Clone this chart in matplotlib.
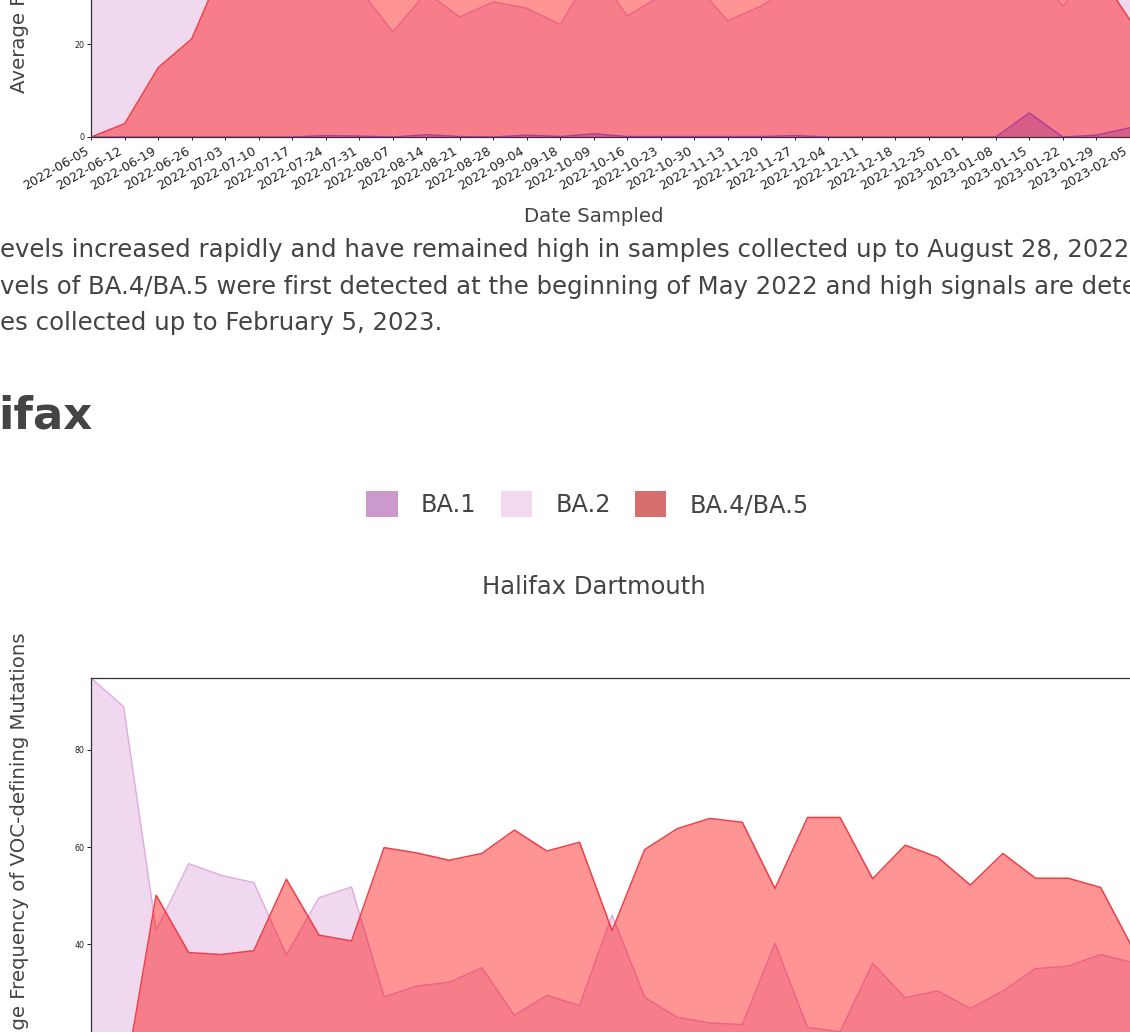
import numpy as np
import matplotlib
matplotlib.use("Agg")
import matplotlib.pyplot as plt
from matplotlib.patches import Patch

# ---------------- data ----------------
top_dates = ["2022-06-05", "2022-06-12", "2022-06-19", "2022-06-26", "2022-07-03", "2022-07-10",
             "2022-07-17", "2022-07-24", "2022-07-31", "2022-08-07", "2022-08-14", "2022-08-21",
             "2022-08-28", "2022-09-04", "2022-09-18", "2022-10-09", "2022-10-16", "2022-10-23",
             "2022-10-30", "2022-11-13", "2022-11-20", "2022-11-27", "2022-12-04", "2022-12-11",
             "2022-12-18", "2022-12-25", "2023-01-01", "2023-01-08", "2023-01-15", "2023-01-22",
             "2023-01-29", "2023-02-05"]
top_ba1 = [0, 0, 0, 0, 0, 0, 0, 0.3, 0.2, 0, 0.5, 0.1, 0, 0.4, 0.1, 0.7, 0.1, 0.1, 0.1, 0.1,
           0.1, 0.3, 0, 0, 0, 0, 0, 0, 5.2, 0, 0.4, 2.0]
top_ba2 = [90, 85, 70, 55, 45, 40, 38, 35, 32, 22.7, 31.2, 25.9, 29.2, 27.8, 24.3, 36.5, 26.1,
           30.5, 33.3, 25.1, 28.3, 32.8, 35, 38, 40, 42, 38, 37, 37, 28.3, 37, 45]
top_ba45 = [0, 2.9, 15.0, 21.2, 38, 48, 55, 60, 62, 64, 63, 62, 65, 63, 60, 64, 62, 63, 65, 60,
            62, 64, 66, 65, 63, 64, 62, 63, 60, 58, 36.2, 25.3]

bot_ba1 = [0.5, 0.3, 0.2, 0.1, 0.1, 0, 0, 0, 0, 0, 0, 0, 0, 0, 0, 0, 0, 0, 0, 0, 0, 0, 0, 0,
           0, 0, 0, 0, 0, 0, 0, 0, 0]
bot_ba2 = [94.8, 88.9, 42.9, 56.6, 54.2, 52.7, 37.8, 49.6, 51.8, 29.2, 31.4, 32.2, 35.2, 25.4,
           29.5, 27.4, 46.0, 29.1, 25.0, 23.8, 23.5, 40.2, 22.9, 22.0, 36.1, 29.0, 30.4, 26.8,
           30.4, 35.0, 35.5, 37.9, 36.2]
bot_ba45 = [2.0, 10.8, 50.1, 38.3, 37.9, 38.7, 53.4, 41.9, 40.7, 59.9, 58.8, 57.3, 58.7, 63.5,
            59.2, 61.0, 42.8, 59.5, 63.8, 65.9, 65.1, 51.5, 66.1, 66.1, 53.5, 60.4, 57.9, 52.2,
            58.7, 53.6, 53.6, 51.7, 39.0]

variants = ["BA.1", "BA.2", "BA.4/BA.5"]
legend_colors = ["#cc99cc", "#f2d9f0", "#d66e6e"]

# ---------------- figure ----------------
W, H = 1130, 1032
fig = plt.figure(figsize=(W / 100, H / 100), dpi=100)
TXT = "#444444"


def fx(x):
    return x / W


def fy(y):
    return 1 - y / H


def draw(ax, x, ba1, ba2, ba45):
    ax.fill_between(x, 0, ba2, color="#f0d8ef", lw=0, zorder=1)
    ax.plot(x, ba2, color="#e0aadf", lw=1.0, zorder=1.5)
    ax.fill_between(x, 0, ba45, color="red", alpha=0.42, lw=0, zorder=2)
    ax.plot(x, ba45, color="#ee3e48", lw=1.1, zorder=2.5)
    ax.fill_between(x, 0, ba1, color="purple", alpha=0.25, lw=0, zorder=3)
    ax.plot(x, ba1, color="#9b2d9b", lw=1.0, alpha=0.8, zorder=3.5)


def style(ax):
    for s in ax.spines.values():
        s.set_color("#333333")
        s.set_linewidth(0.9)
    ax.tick_params(axis="y", length=2.9, width=0.7, labelsize=5.7, pad=2, colors="#222222")
    ax.tick_params(axis="x", length=2.5, width=0.7, labelsize=9.2, pad=3, colors="#222222")


# top chart
xt = np.arange(len(top_dates))
sp_t = 33.5
ax1_left, ax1_bottom_px = 91.3, 137
ylim_t = 98
ppu_t = 4.63
xlim_t = 31.1
ax1 = fig.add_axes([fx(ax1_left), fy(ax1_bottom_px), xlim_t * sp_t / W, ylim_t * ppu_t / H])
draw(ax1, xt, top_ba1, top_ba2, top_ba45)
ax1.set_xlim(0, xlim_t)
ax1.set_ylim(0, ylim_t)
ax1.set_xticks(xt)
ax1.set_xticklabels(top_dates, rotation=30, ha="right")
ax1.set_yticks([0, 20, 40, 60, 80])
style(ax1)

# bottom chart
xb = np.arange(len(bot_ba2))
sp_b = 32.57
ylim_b = 94.8
ppu_b = 4.86
xlim_b = 32.0
ax2_top_px = 678
ax2 = fig.add_axes([fx(91), fy(ax2_top_px + ylim_b * ppu_b), xlim_b * sp_b / W, ylim_b * ppu_b / H])
draw(ax2, xb, bot_ba1, bot_ba2, bot_ba45)
ax2.set_xlim(0, xlim_b)
ax2.set_ylim(0, ylim_b)
ax2.set_yticks([0, 20, 40, 60, 80])
ax2.set_xticks(xb)
ax2.set_xticklabels([])
style(ax2)

# axis titles
ylab = "Average Frequency of VOC-defining Mutations"
fig.text(fx(594), fy(217), "Date Sampled", ha="center", va="center", fontsize=14.2, color=TXT)
fig.text(fx(20), fy(93), ylab, rotation=90, ha="center", va="bottom", fontsize=14.2, color=TXT)
fig.text(fx(20), fy(632), ylab, rotation=90, ha="center", va="top", fontsize=14.2, color=TXT)

# paragraph text
lines = ["evels increased rapidly and have remained high in samples collected up to August 28, 2022",
         "vels of BA.4/BA.5 were first detected at the beginning of May 2022 and high signals are dete",
         "es collected up to February 5, 2023."]
for i, t in enumerate(lines):
    fig.text(fx(0), fy(257 + i * 36.7), t, ha="left", va="baseline", fontsize=17.6, color=TXT)

fig.text(fx(-2), fy(428), "ifax", ha="left", va="baseline", fontsize=32.4, fontweight="bold", color=TXT)

# legend
handles = [Patch(facecolor=c, edgecolor="none", label=v) for v, c in zip(variants, legend_colors)]
fig.legend(handles=handles, loc="center", bbox_to_anchor=(fx(587.5), fy(504)), ncol=3,
           frameon=False, fontsize=17.3, handlelength=1.31, handleheight=1.31,
           handletextpad=0.97, columnspacing=1.0, labelcolor=TXT)

fig.text(fx(594), fy(587), "Halifax Dartmouth", ha="center", va="center", fontsize=17.5, color=TXT)

fig.savefig("out.png", dpi=100)
